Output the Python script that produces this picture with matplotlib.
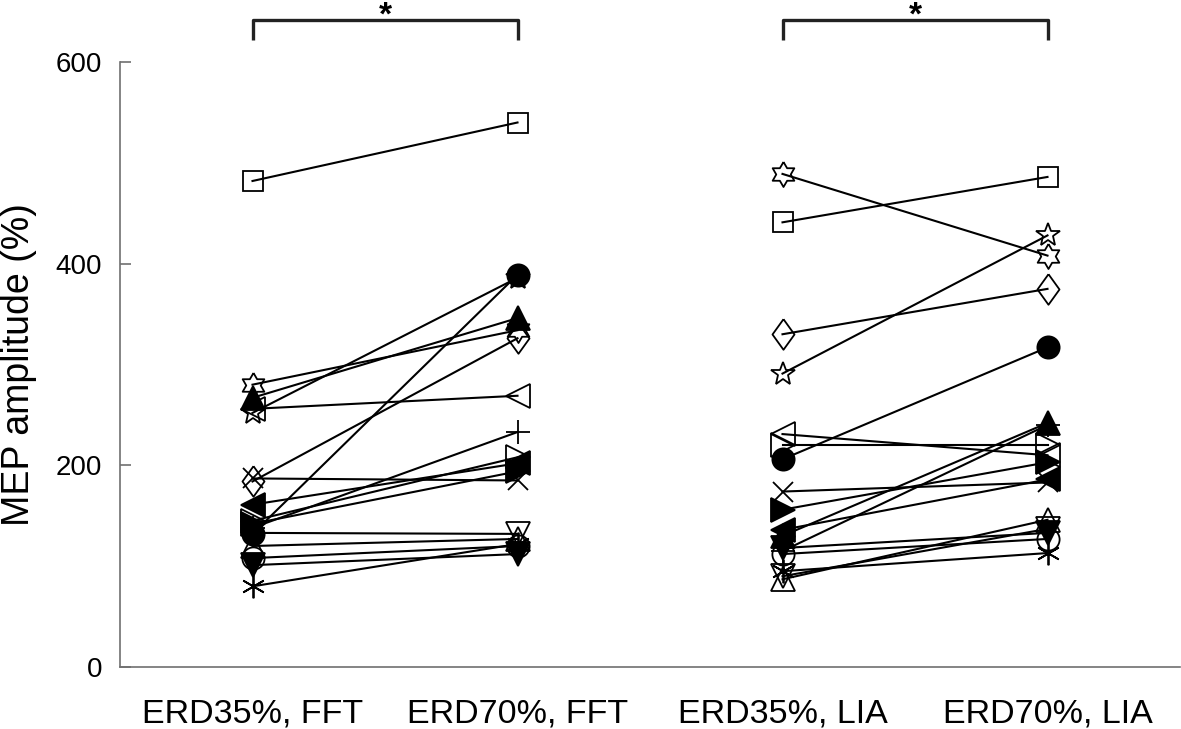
import numpy as np
import matplotlib
matplotlib.use("Agg")
import matplotlib.pyplot as plt

plt.rcParams['font.family'] = ['Liberation Sans', 'DejaVu Sans']

# podaci (procitano sa slike)
conditions = ['ERD35%, FFT', 'ERD70%, FFT', 'ERD35%, LIA', 'ERD70%, LIA']
yticks = [0, 200, 400, 600]

erd35_fft = [482, 280, 252, 184, 132, 108, 267, 120, 101, 133, 256, 161, 145, 142, 138, 187, 80]
erd70_fft = [540, 334, 386, 326, 389, 120, 346, 127, 112, 132, 269, 202, 208, 194, 233, 185, 122]
erd35_lia = [441, 489, 291, 330, 206, 112, 130, 87, 118, 90, 231, 136, 220, 156, 115, 174, 95]
erd70_lia = [486, 408, 428, 375, 317, 127, 242, 146, 133, 137, 210, 186, 220, 203, 240, 183, 113]

# markeri za svakog ispitanika
ang = np.arange(13) * np.pi / 6 + np.pi / 2
rad = np.where(np.arange(13) % 2 == 0, 1.0, 0.58)
hexagram = list(zip(rad * np.cos(ang), rad * np.sin(ang)))
diamond = [(0, 1), (0.72, 0), (0, -1), (-0.72, 0), (0, 1)]

styles = [
    ('s', False, 14), (hexagram, False, 18), ('*', False, 18), (diamond, False, 22),
    ('o', True, 16), ('o', False, 16), ('^', True, 17), ('^', False, 17),
    ('v', True, 17), ('v', False, 17), ('<', False, 17), ('<', True, 17),
    ('>', False, 17), ('>', True, 17), ('+', False, 17), ('x', False, 15),
    ((6, 2, 0), False, 17),
]

x = np.array([1, 2, 3, 4])
fig = plt.figure(figsize=(11.81, 7.29), dpi=100)
ax = fig.add_axes([120 / 1181, 62 / 729, 1060 / 1181, 605 / 729])

for i, (m, filled, ms) in enumerate(styles):
    mfc = 'black' if filled else 'none'
    for pair, vals in (((x[0], x[1]), (erd35_fft[i], erd70_fft[i])),
                       ((x[2], x[3]), (erd35_lia[i], erd70_lia[i]))):
        ax.plot(pair, vals, color='black', lw=1.5, marker=m, ms=ms,
                mfc=mfc, mec='black', mew=1.3, clip_on=False)

# zagrade sa zvezdicom
for a, b in ((x[0], x[1]), (x[2], x[3])):
    ax.plot([a, a, b, b], [622, 642, 642, 622], color='#222222', lw=2.4,
            clip_on=False, solid_capstyle='butt')
    ax.text((a + b) / 2, 637, '*', fontsize=24, fontweight='bold',
            ha='center', va='baseline')

ax.set_xlim(0.5, 4.5)
ax.set_ylim(0, 600)
ax.set_xticks(x)
ax.set_xticklabels(conditions, fontsize=24.5)
ax.set_yticks(yticks)
ax.set_yticklabels([str(t) for t in yticks], fontsize=20)
ax.tick_params(axis='x', length=0, pad=23)
ax.tick_params(axis='y', direction='in', length=8, width=1.2, color='#707070', pad=13)
ax.set_ylabel('MEP amplitude (%)', fontsize=27)
ax.yaxis.set_label_coords(-0.078, 0.5)

for s in ('top', 'right'):
    ax.spines[s].set_visible(False)
for s in ('left', 'bottom'):
    ax.spines[s].set_color('#707070')
    ax.spines[s].set_linewidth(1.2)

fig.savefig('out.png', dpi=100)
